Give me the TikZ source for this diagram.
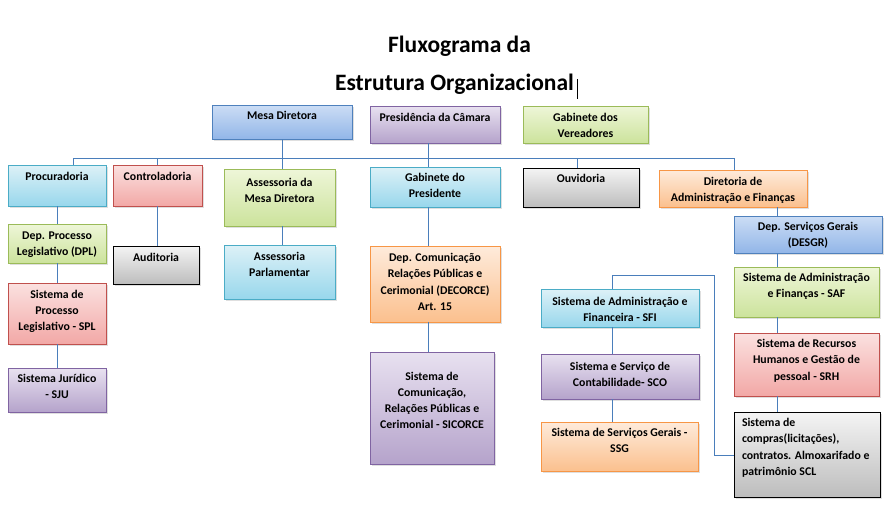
\documentclass[tikz,border=0pt]{standalone}
\usepackage{fontspec}
\setmainfont{Carlito}
\usetikzlibrary{shadows}
\definecolor{connc}{HTML}{4A7EBB}
\definecolor{blT}{HTML}{CCDDF5}\definecolor{blB}{HTML}{92B6E8}\definecolor{blD}{HTML}{4F81BD}
\definecolor{puT}{HTML}{E8E1F0}\definecolor{puB}{HTML}{B5A3CB}\definecolor{puD}{HTML}{8064A2}
\definecolor{grT}{HTML}{EEF6D8}\definecolor{grB}{HTML}{CCE39C}\definecolor{grD}{HTML}{9BBB59}
\definecolor{cyT}{HTML}{DDF1F7}\definecolor{cyB}{HTML}{98D7EC}\definecolor{cyD}{HTML}{4BACC6}
\definecolor{reT}{HTML}{FBE1E0}\definecolor{reB}{HTML}{F2A8A6}\definecolor{reD}{HTML}{C0504D}
\definecolor{orT}{HTML}{FEEBDB}\definecolor{orB}{HTML}{FBC08E}\definecolor{orD}{HTML}{F79646}
\definecolor{gyT}{HTML}{F4F4F4}\definecolor{gyB}{HTML}{BDBDBD}\definecolor{gyD}{HTML}{000000}
\tikzset{
  orgbox/.style={inner sep=0pt, outer sep=0pt, line width=0.8pt,
    drop shadow={opacity=0.25, shadow xshift=1.5pt, shadow yshift=-1.5pt},
    font=\bfseries\fontsize{11.8}{16.3}\selectfont},
  bluebox/.style={orgbox, draw=blD, top color=blT, bottom color=blB},
  purplebox/.style={orgbox, draw=puD, top color=puT, bottom color=puB},
  greenbox/.style={orgbox, draw=grD, top color=grT, bottom color=grB},
  cyanbox/.style={orgbox, draw=cyD, top color=cyT, bottom color=cyB},
  redbox/.style={orgbox, draw=reD, top color=reT, bottom color=reB},
  orangebox/.style={orgbox, draw=orD, top color=orT, bottom color=orB},
  graybox/.style={orgbox, draw=gyD, top color=gyT, bottom color=gyB},
  conn/.style={draw=connc, line width=0.8pt},
  titletext/.style={font=\bfseries\fontsize{23.5}{28}\selectfont, inner sep=0pt, anchor=base}
}
\newcommand\ct[1][15]{\centering\rule{0pt}{#1pt}}
\newcommand\obox[7]{%
  \node[#2, minimum width=#5pt-#3pt, minimum height=#6pt-#4pt] (#1)
    at ({(#3+#5)/2},{(#4+#6)/2})
    {\parbox[c][\dimexpr#6pt-#4pt\relax][t]{\dimexpr#5pt-#3pt\relax}{#7}};}
\begin{document}
\begin{tikzpicture}[x=1pt,y=-1pt]
\useasboundingbox (0,0) rectangle (889,517);
% title
\node[titletext] (t1) at (459.5,52) {Fluxograma da};
\node[titletext] (t2) at (454.5,90.5) {Estrutura Organizacional};
\draw[line width=1pt] (577,79) -- (577,99);
% boxes
\obox{mesa}{bluebox}{212}{105}{352}{139}{\ct[14]Mesa Diretora}
\obox{pres}{purplebox}{370}{106}{500}{143}{\ct[15]Presidência da Câmara}
\obox{gabv}{greenbox}{523}{106}{648}{143}{\ct[15]Gabinete dos\\Vereadores}
\obox{proc}{cyanbox}{8}{165}{106}{206}{\ct[15.5]Procuradoria}
\obox{contr}{redbox}{113}{165}{202}{206}{\ct[15.5]Controladoria}
\obox{assm}{greenbox}{224}{169}{335}{226}{\ct[17.5]Assessoria da\\Mesa Diretora}
\obox{gabp}{cyanbox}{370}{167}{500}{207}{\ct[14.5]Gabinete do\\Presidente}
\obox{ouv}{graybox}{523}{168}{639}{207}{\ct[14.5]Ouvidoria}
\obox{dir}{orangebox}{659}{170}{807}{207}{\ct[15]Diretoria de\\Administração e Finanças}
\obox{dpl}{greenbox}{8}{224}{106}{263}{\ct[15]Dep. Processo\\Legislativo (DPL)}
\obox{aud}{graybox}{113}{246}{199}{284}{\ct[15]Auditoria}
\obox{parl}{cyanbox}{224}{245}{335}{299}{\ct[15.5]Assessoria\\Parlamentar}
\obox{dcom}{orangebox}{370}{246}{500}{322}{\ct[15.5]Dep. Comunicação\\Relações Públicas e\\Cerimonial (DECORCE)\\Art. 15}
\obox{sico}{purplebox}{370}{352}{494}{464}{\ct[28]Sistema de\\Comunicação,\\Relações Públicas e\\Cerimonial - SICORCE}
\obox{spl}{redbox}{8}{283}{106}{344}{\ct[15]Sistema de\\Processo\\Legislativo - SPL}
\obox{sju}{purplebox}{8}{368}{106}{412}{\ct[14.5]Sistema Jurídico\\- SJU}
\obox{desgr}{bluebox}{734}{216}{882}{253}{\ct[14.5]Dep. Serviços Gerais\\(DESGR)}
\obox{saf}{greenbox}{734}{267}{879}{317}{\ct[14.5]Sistema de Administração\\e Finanças - SAF}
\obox{srh}{redbox}{734}{333}{879}{396}{\ct[14.5]Sistema de Recursos\\Humanos e Gestão de\\pessoal - SRH}
\obox{scl}{graybox}{734}{412}{880}{497}{\raggedright\leftskip=8pt\rule{0pt}{14.5pt}Sistema de\\compras(licitações),\\contratos. Almoxarifado e\\patrimônio SCL}
\obox{sfi}{cyanbox}{541}{289}{699}{327}{\ct[16]Sistema de Administração e\\Financeira - SFI}
\obox{sco}{purplebox}{541}{354}{699}{399}{\ct[16]Sistema e Serviço de\\Contabilidade- SCO}
\obox{ssg}{orangebox}{541}{422}{698}{471}{\ct[14.5]Sistema de Serviços Gerais -\\SSG}
% connector coordinates
\coordinate (b1) at (73,158);
\coordinate (b3) at (282,158);
\coordinate (b4) at (428,158);
\coordinate (b5) at (577,158);
\coordinate (b6) at (734,158);
\coordinate (cx) at (777,0);
\coordinate (fx) at (612,0);
\coordinate (e1) at (612,275);
\coordinate (e2) at (714,455);
% connectors
\draw[conn] (b1) -- (b6);
\draw[conn] (b1) -- (b1 |- proc.north);
\draw[conn] (contr.north |- b1) -- (contr.north);
\draw[conn] (b3 |- mesa.south) -- (b3 |- assm.north);
\draw[conn] (b4 |- pres.south) -- (b4 |- gabp.north);
\draw[conn] (b5) -- (b5 |- ouv.north);
\draw[conn] (b6) -- (b6 |- dir.north);
\draw[conn] (proc.south) -- (proc.south |- dpl.north);
\draw[conn] (dpl.south) -- (dpl.south |- spl.north);
\draw[conn] (spl.south) -- (spl.south |- sju.north);
\draw[conn] (contr.south) -- (contr.south |- aud.north);
\draw[conn] (b3 |- assm.south) -- (b3 |- parl.north);
\draw[conn] (b4 |- gabp.south) -- (b4 |- dcom.north);
\draw[conn] (b4 |- dcom.south) -- (b4 |- sico.north);
\draw[conn] (cx |- dir.south) -- (cx |- desgr.north);
\draw[conn] (cx |- desgr.south) -- (cx |- saf.north);
\draw[conn] (cx |- saf.south) -- (cx |- srh.north);
\draw[conn] (cx |- srh.south) -- (cx |- scl.north);
\draw[conn] (fx |- sfi.south) -- (fx |- sco.north);
\draw[conn] (fx |- sco.south) -- (fx |- ssg.north);
\draw[conn] (fx |- sfi.north) -- (e1) -| (e2) -- (e2 -| scl.west);
\end{tikzpicture}
\end{document}
